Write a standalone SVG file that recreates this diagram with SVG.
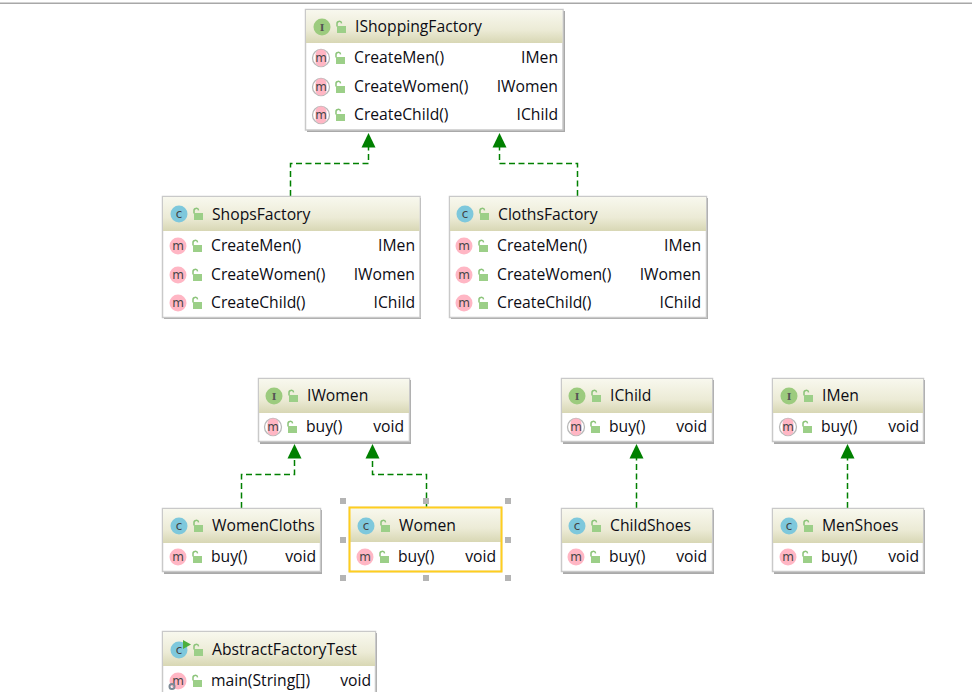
<svg xmlns="http://www.w3.org/2000/svg" width="972" height="692" viewBox="0 0 972 692">
<style>
.box{fill:#fff;stroke:#c9c9c9;stroke-width:1.5}
.shadow{fill:#a9a9a9}
.hd{fill:url(#hg)}
.t{font-family:"Open Sans","Noto Sans","Liberation Sans",sans-serif;font-size:15.7px;fill:#0c0c14}
.r{text-anchor:end}
.ic{font-family:"DejaVu Sans",sans-serif;font-size:12px;fill:#444;text-anchor:middle}
.ii{font-family:"DejaVu Serif",serif;font-size:10px;font-weight:bold;fill:#555;text-anchor:middle}
.con{fill:none;stroke:#008000;stroke-width:1.5;stroke-dasharray:6 3.5}
.hand{fill:#b4b4b4}
</style>
<defs>
<linearGradient id="hg" x1="0" y1="0" x2="0" y2="1"><stop offset="0" stop-color="#f8f8ee"/><stop offset="0.6" stop-color="#ecebd6"/><stop offset="1" stop-color="#d8d7b4"/></linearGradient>
<marker id="tri" markerUnits="userSpaceOnUse" markerWidth="15" markerHeight="15" refX="0.500" refY="7.500" orient="auto" viewBox="0 0 15 15"><path d="M0 0.500L14.500 7.500L0 14.500Z" fill="#008000"/></marker>
<g id="lock"><path d="M2 5.500V3a2.300 2.300 0 0 1 4.600-0.600" fill="none" stroke="#8cc47a" stroke-width="1.5"/><rect x="2" y="5" width="9" height="7" fill="#9ccf88"/></g>
<g id="mc"><circle cx="0" cy="0" r="8.500" fill="#ffb6c4"/><text class="ic" y="4">m</text></g>
<g id="ma"><circle cx="0" cy="0" r="8.500" fill="none" stroke="#b9b9b9" stroke-width="1.300"/><rect x="-5.500" y="-8.500" width="11" height="17" rx="5" fill="#ffb6c4"/><text class="ic" y="4">m</text></g>
<g id="cc"><circle cx="0" cy="0" r="8.500" fill="#7ec8dc"/><text class="ic" y="4">c</text></g>
<g id="ci"><circle cx="0" cy="0" r="8.500" fill="#9ccb7e"/><text class="ii" y="3.500">I</text></g>
</defs>
<rect x="0" y="2.500" width="972" height="1.500" fill="#a8a8a8"/>

<g id="connectors">
<path class="con" marker-end="url(#tri)" d="M290.500 196V163.500H368.500V147"/>
<path class="con" marker-end="url(#tri)" d="M577.500 196V163.500H499.500V147"/>
<path class="con" marker-end="url(#tri)" d="M241.500 508V474.500H294.500V458"/>
<path class="con" marker-end="url(#tri)" d="M426.500 508V474.500H372.500V458"/>
<path class="con" marker-end="url(#tri)" d="M636.500 508V458"/>
<path class="con" marker-end="url(#tri)" d="M847.500 508V458"/>
</g>

<g id="IShoppingFactory">
<rect class="shadow" x="307" y="11" width="258" height="121"/><rect class="box" x="305.500" y="9.500" width="257.500" height="120.500"/><rect class="hd" x="306" y="10" width="256.500" height="33"/>
<use href="#ci" x="322" y="27"/><use href="#lock" x="335" y="21"/><text class="t" x="355" y="32">IShoppingFactory</text>
<use href="#ma" x="321" y="58"/><use href="#lock" x="334" y="52"/><text class="t" x="354" y="63">CreateMen()</text><text class="t r" x="558" y="63">IMen</text>
<use href="#ma" x="321" y="87"/><use href="#lock" x="334" y="81"/><text class="t" x="354" y="92">CreateWomen()</text><text class="t r" x="558" y="92">IWomen</text>
<use href="#ma" x="321" y="115"/><use href="#lock" x="334" y="109"/><text class="t" x="354" y="120">CreateChild()</text><text class="t r" x="558" y="120">IChild</text>
</g>

<g id="ShopsFactory">
<rect class="shadow" x="164" y="198" width="257" height="121"/><rect class="box" x="162.500" y="196.500" width="257.500" height="121"/><rect class="hd" x="163" y="197" width="256.500" height="34"/>
<use href="#cc" x="179" y="214"/><use href="#lock" x="192" y="208"/><text class="t" x="212" y="220">ShopsFactory</text>
<use href="#mc" x="178" y="246"/><use href="#lock" x="191" y="240"/><text class="t" x="211" y="251">CreateMen()</text><text class="t r" x="415" y="251">IMen</text>
<use href="#mc" x="178" y="275"/><use href="#lock" x="191" y="269"/><text class="t" x="211" y="280">CreateWomen()</text><text class="t r" x="415" y="280">IWomen</text>
<use href="#mc" x="178" y="303"/><use href="#lock" x="191" y="297"/><text class="t" x="211" y="308">CreateChild()</text><text class="t r" x="415" y="308">IChild</text>
</g>

<g id="ClothsFactory">
<rect class="shadow" x="451" y="198" width="257" height="121"/><rect class="box" x="449.500" y="196.500" width="257" height="121"/><rect class="hd" x="450" y="197" width="256" height="34"/>
<use href="#cc" x="465" y="214"/><use href="#lock" x="478" y="208"/><text class="t" x="498" y="220">ClothsFactory</text>
<use href="#mc" x="464" y="246"/><use href="#lock" x="477" y="240"/><text class="t" x="497" y="251">CreateMen()</text><text class="t r" x="701" y="251">IMen</text>
<use href="#mc" x="464" y="275"/><use href="#lock" x="477" y="269"/><text class="t" x="497" y="280">CreateWomen()</text><text class="t r" x="701" y="280">IWomen</text>
<use href="#mc" x="464" y="303"/><use href="#lock" x="477" y="297"/><text class="t" x="497" y="308">CreateChild()</text><text class="t r" x="701" y="308">IChild</text>
</g>

<g id="IWomen">
<rect class="shadow" x="260" y="380" width="151" height="64"/><rect class="box" x="258.500" y="378.500" width="151" height="63"/><rect class="hd" x="259" y="379" width="150" height="34"/>
<use href="#ci" x="274" y="396"/><use href="#lock" x="287" y="390"/><text class="t" x="307" y="401">IWomen</text>
<use href="#ma" x="273" y="427"/><use href="#lock" x="286" y="421"/><text class="t" x="306" y="432">buy()</text><text class="t r" x="404" y="432">void</text>
</g>

<g id="IChild">
<rect class="shadow" x="563" y="380" width="151" height="64"/><rect class="box" x="561.500" y="378.500" width="151" height="63"/><rect class="hd" x="562" y="379" width="150" height="34"/>
<use href="#ci" x="577" y="396"/><use href="#lock" x="590" y="390"/><text class="t" x="610" y="401">IChild</text>
<use href="#ma" x="576" y="427"/><use href="#lock" x="589" y="421"/><text class="t" x="609" y="432">buy()</text><text class="t r" x="707" y="432">void</text>
</g>

<g id="IMen">
<rect class="shadow" x="774" y="380" width="151" height="64"/><rect class="box" x="772.500" y="378.500" width="151" height="63"/><rect class="hd" x="773" y="379" width="150" height="34"/>
<use href="#ci" x="789" y="396"/><use href="#lock" x="802" y="390"/><text class="t" x="822" y="401">IMen</text>
<use href="#ma" x="788" y="427"/><use href="#lock" x="801" y="421"/><text class="t" x="821" y="432">buy()</text><text class="t r" x="919" y="432">void</text>
</g>

<g id="WomenCloths">
<rect class="shadow" x="164" y="510" width="158" height="64"/><rect class="box" x="162.500" y="508.500" width="158" height="63"/><rect class="hd" x="163" y="509" width="157" height="34"/>
<use href="#cc" x="179" y="526"/><use href="#lock" x="192" y="520"/><text class="t" x="212" y="531">WomenCloths</text>
<use href="#mc" x="178" y="557"/><use href="#lock" x="191" y="551"/><text class="t" x="211" y="562">buy()</text><text class="t r" x="316" y="562">void</text>
</g>

<g id="Women">
<rect class="box" x="349.500" y="507.500" width="152" height="64"/><rect class="hd" x="350" y="508" width="151" height="34"/>
<rect x="349.500" y="507.500" width="152" height="64" fill="none" stroke="#ffce1f" stroke-width="2"/>
<use href="#cc" x="366" y="526"/><use href="#lock" x="379" y="520"/><text class="t" x="399" y="531">Women</text>
<use href="#mc" x="365" y="557"/><use href="#lock" x="378" y="551"/><text class="t" x="398" y="562">buy()</text><text class="t r" x="496" y="562">void</text>
<rect class="hand" x="340" y="498" width="6" height="6"/><rect class="hand" x="423" y="498" width="6" height="6"/><rect class="hand" x="505" y="498" width="6" height="6"/>
<rect class="hand" x="340" y="537" width="6" height="6"/><rect class="hand" x="505" y="537" width="6" height="6"/>
<rect class="hand" x="340" y="575" width="6" height="6"/><rect class="hand" x="423" y="575" width="6" height="6"/><rect class="hand" x="505" y="575" width="6" height="6"/>
</g>

<g id="ChildShoes">
<rect class="shadow" x="563" y="510" width="151" height="64"/><rect class="box" x="561.500" y="508.500" width="151" height="63"/><rect class="hd" x="562" y="509" width="150" height="34"/>
<use href="#cc" x="577" y="526"/><use href="#lock" x="590" y="520"/><text class="t" x="610" y="531">ChildShoes</text>
<use href="#mc" x="576" y="557"/><use href="#lock" x="589" y="551"/><text class="t" x="609" y="562">buy()</text><text class="t r" x="707" y="562">void</text>
</g>

<g id="MenShoes">
<rect class="shadow" x="774" y="510" width="151" height="64"/><rect class="box" x="772.500" y="508.500" width="151" height="63"/><rect class="hd" x="773" y="509" width="150" height="34"/>
<use href="#cc" x="789" y="526"/><use href="#lock" x="802" y="520"/><text class="t" x="822" y="531">MenShoes</text>
<use href="#mc" x="788" y="557"/><use href="#lock" x="801" y="551"/><text class="t" x="821" y="562">buy()</text><text class="t r" x="919" y="562">void</text>
</g>

<g id="AbstractFactoryTest">
<rect class="shadow" x="164" y="633" width="213" height="70"/><rect class="box" x="162.500" y="631.500" width="213" height="70"/><rect class="hd" x="163" y="632" width="212" height="34"/>
<use href="#cc" x="179" y="650"/><path d="M183 640l8 4.500-8 4.500z" fill="#4caf3c"/><use href="#lock" x="192" y="644"/><text class="t" x="212" y="655">AbstractFactoryTest</text>
<use href="#mc" x="178" y="681"/><use href="#lock" x="191" y="675"/><circle cx="172" cy="686.500" r="2.500" fill="none" stroke="#7d8a96" stroke-width="2"/><text class="t" x="211" y="686">main(String[])</text><text class="t r" x="371" y="686">void</text>
</g>
</svg>
